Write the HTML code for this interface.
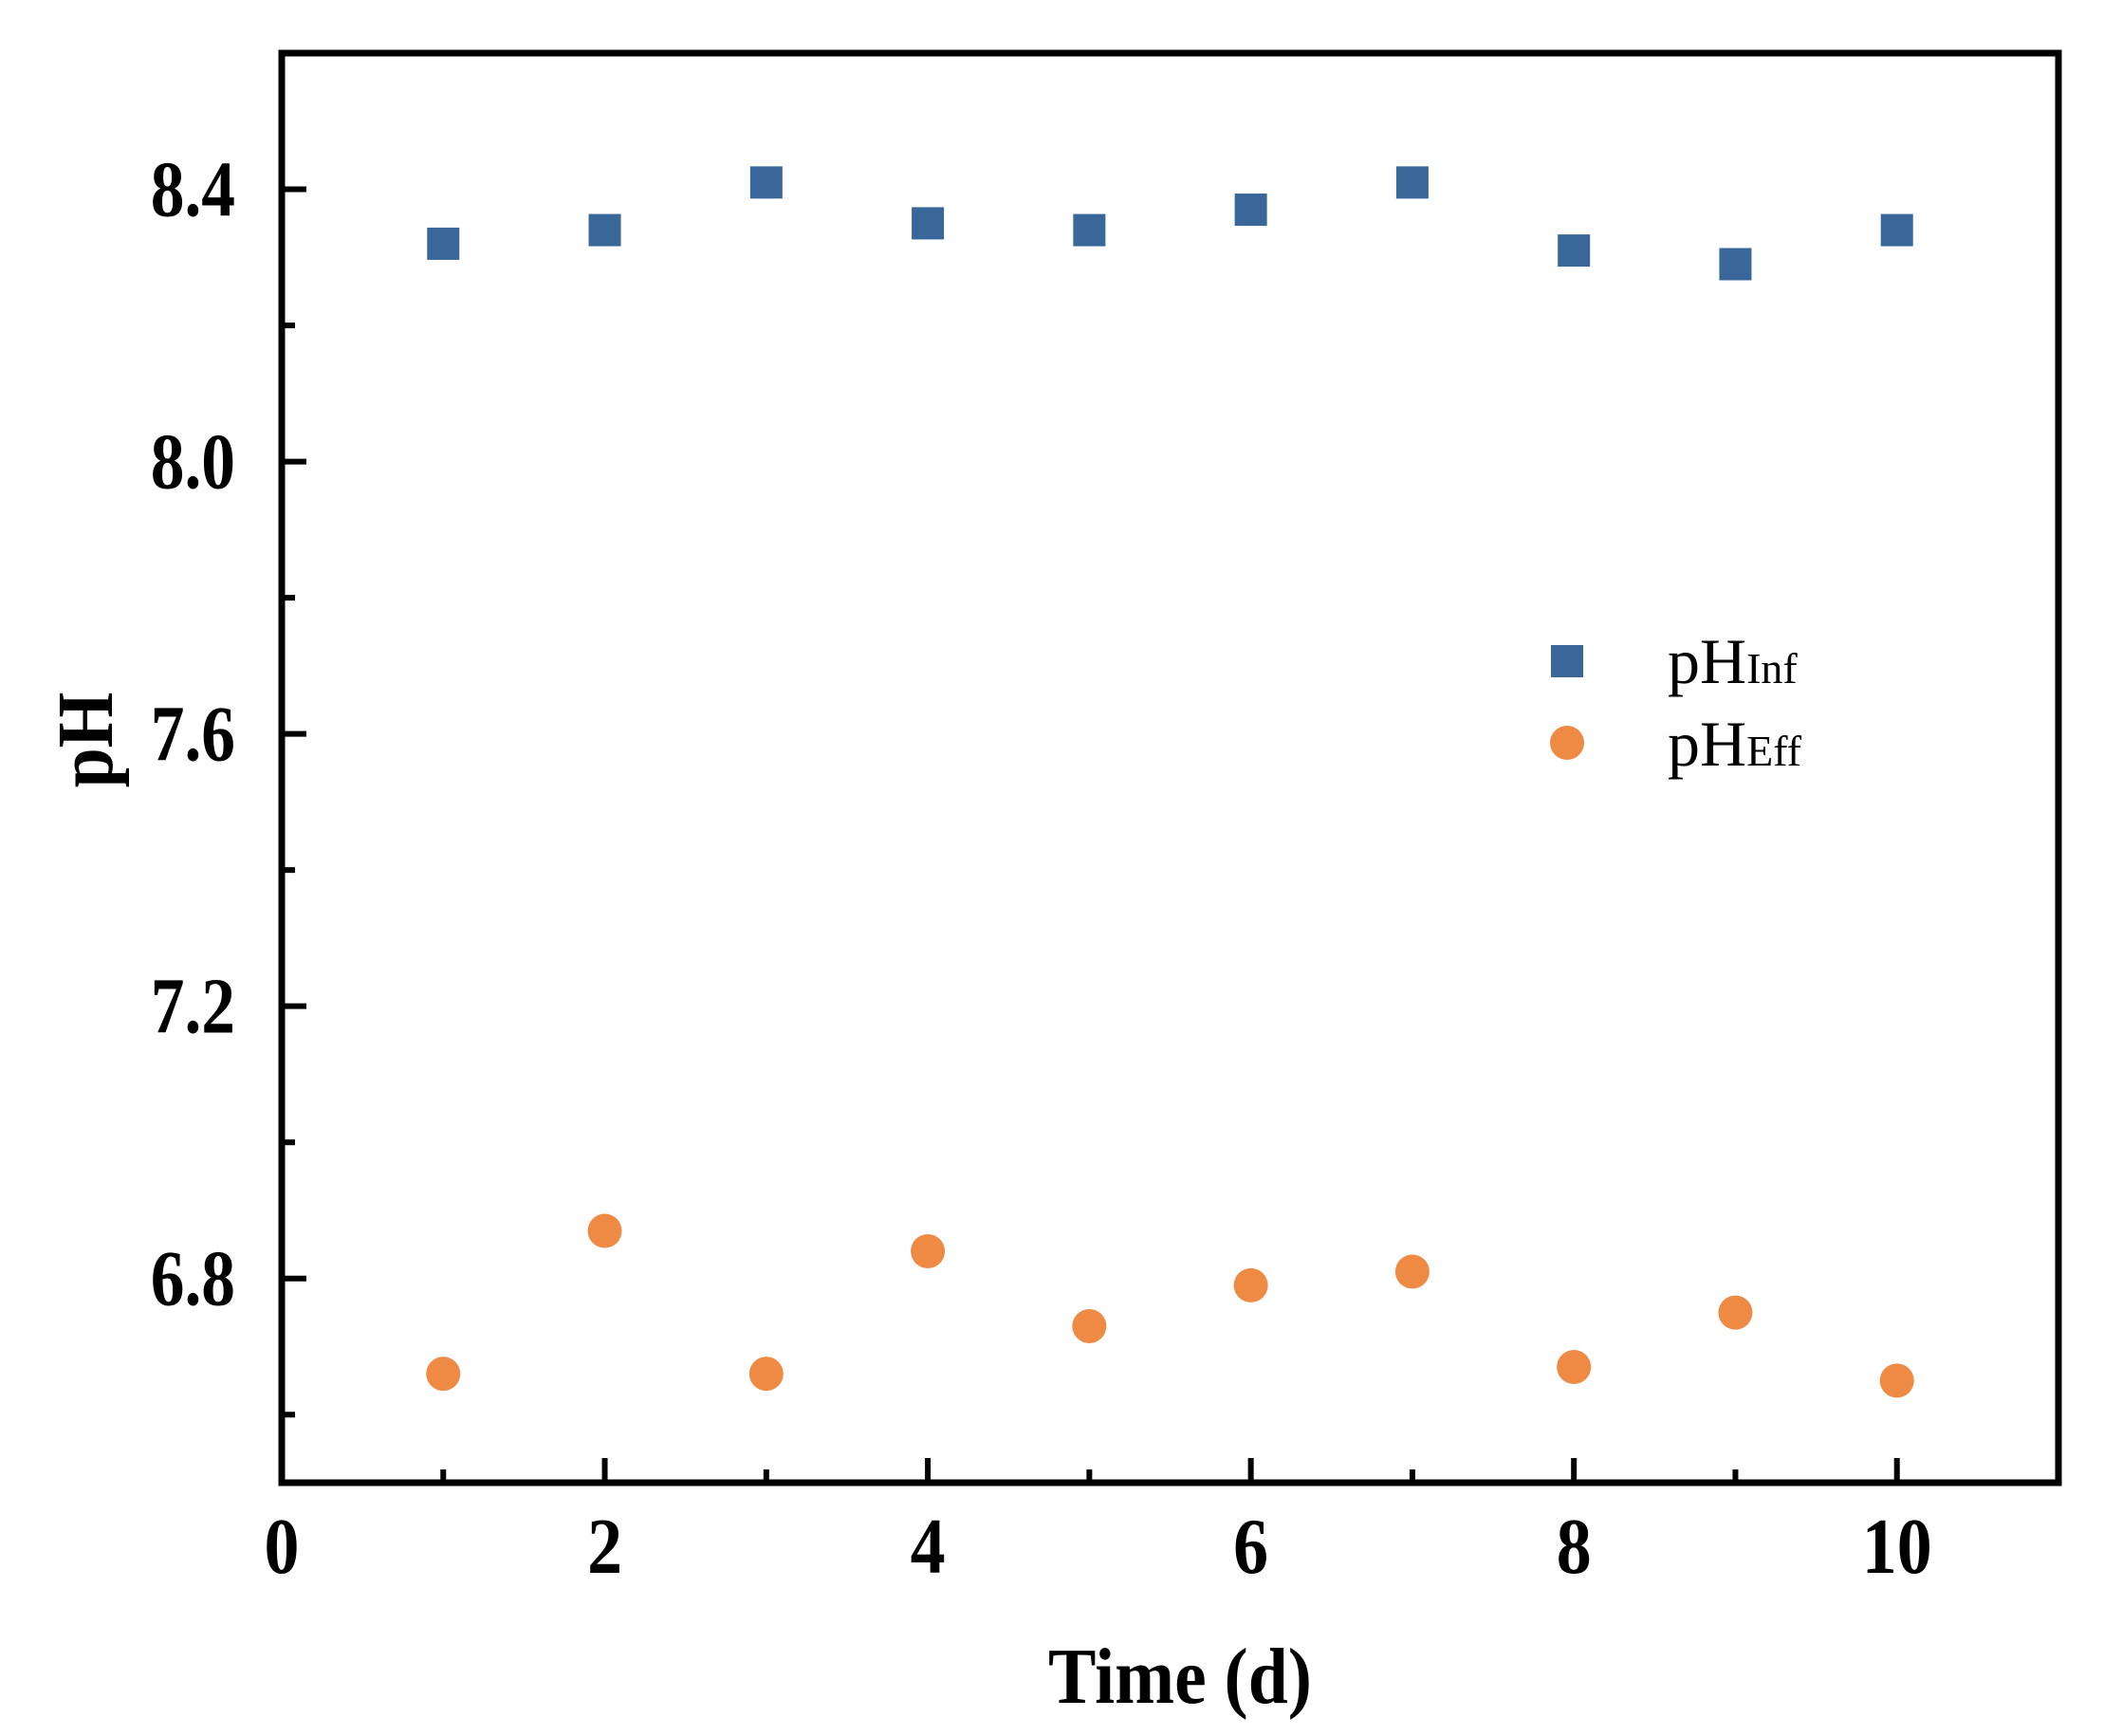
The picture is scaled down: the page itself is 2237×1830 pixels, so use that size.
<!DOCTYPE html>
<html><head><meta charset="utf-8"><style>
html,body{margin:0;padding:0;background:#fff;}
svg{display:block;}
text{font-family:"Liberation Serif",serif;}
</style></head><body>
<svg id="chart" width="2237" height="1830" viewBox="0 0 2237 1830" xmlns="http://www.w3.org/2000/svg">
<g id="ticks"></g>
<g id="marks"></g>
<rect x="297" y="56" width="1873" height="1507" fill="none" stroke="#000" stroke-width="7"/>
<text transform="translate(118,780) rotate(-90) scale(0.9,1)" text-anchor="middle" font-size="84" font-weight="bold">pH</text>
<text transform="translate(1244,1795) scale(0.9,1)" text-anchor="middle" font-size="84" font-weight="bold">Time (d)</text>
<g>
<rect x="1635" y="680" width="34" height="34" fill="#3a679a"/>
<text x="1758" y="720" font-size="68">pH<tspan font-size="46">Inf</tspan></text>
<circle cx="1652" cy="783" r="18" fill="#ef8a45"/>
<text x="1758" y="807" font-size="68">pH<tspan font-size="46">Eff</tspan></text>
</g>
</svg>
<script>
const days = [1,2,3,4,5,6,7,8,9,10];
const phInf = [8.32,8.34,8.41,8.35,8.34,8.37,8.41,8.31,8.29,8.34];
const phEff = [6.66,6.87,6.66,6.84,6.73,6.79,6.81,6.67,6.75,6.65];
const xTicks = [0,2,4,6,8,10];
const yTicks = [6.8,7.2,7.6,8.0,8.4];
const yTickLabels = ["6.8","7.2","7.6","8.0","8.4"];

const X0=297, X1=2170, Y0=1563, Y1=56;
const xMin=0, xMax=11, yMin=6.5, yMax=8.6;
function sx(v){return X0+(v-xMin)/(xMax-xMin)*(X1-X0);}
function sy(v){return Y0-(v-yMin)/(yMax-yMin)*(Y0-Y1);}
const NS="http://www.w3.org/2000/svg";
const ticks=document.getElementById('ticks');
const marks=document.getElementById('marks');
function mk(tag,attrs,parent){const e=document.createElementNS(NS,tag);for(const k in attrs)e.setAttribute(k,attrs[k]);parent.appendChild(e);return e;}

for(let v=1; v<=10; v++){
  const major = v%2===0;
  const t=mk('line',{x1:sx(v),x2:sx(v),y1:Y0,y2:Y0-(major?26:14),stroke:'#000','stroke-width':6},ticks);
  
  
}
xTicks.forEach(v=>{
  const t=mk('text',{transform:'translate('+sx(v)+',1658) scale(0.88,1)','text-anchor':'middle','font-size':84,'font-weight':'bold'},ticks);
  t.textContent=String(v);
  
  
});
for(let i=0;i<=10;i++){
  const v=6.6+i*0.2;
  const major = Math.abs(((v-6.8)/0.4)-Math.round((v-6.8)/0.4))<1e-6;
  const t=mk('line',{x1:X0,x2:X0+(major?26:14),y1:sy(v),y2:sy(v),stroke:'#000','stroke-width':6},ticks);
  
  
}
yTicks.forEach((v,i)=>{
  const t=mk('text',{transform:'translate(248,'+(sy(v)+28)+') scale(0.85,1)','text-anchor':'end','font-size':84,'font-weight':'bold'},ticks);
  t.textContent=yTickLabels[i];
  
  
});
days.forEach((d,i)=>{
  const s=mk('rect',{x:sx(d)-17,y:sy(phInf[i])-17,width:34,height:34,fill:'#3a679a'},marks);
  
  
  const c=mk('circle',{cx:sx(d),cy:sy(phEff[i]),r:18,fill:'#ef8a45'},marks);
  
  
});
</script>
</body></html>
